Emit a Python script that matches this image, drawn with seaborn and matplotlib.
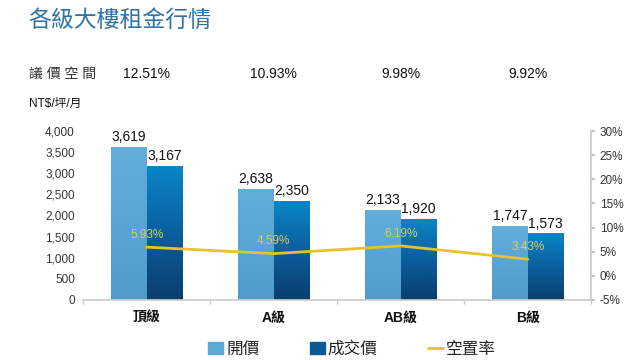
import numpy as np
import pandas as pd
import matplotlib
matplotlib.use("Agg")
import matplotlib.pyplot as plt
import seaborn as sns
from matplotlib.colors import LinearSegmentedColormap
from matplotlib.patches import Patch
from matplotlib.lines import Line2D
from matplotlib.ticker import FuncFormatter, MultipleLocator

categories = ["頂級", "A級", "AB級", "B級"]
asking = [3619, 2638, 2133, 1747]
deal = [3167, 2350, 1920, 1573]
vacancy = [5.93, 4.59, 6.19, 3.43]
gap = ["12.51%", "10.93%", "9.98%", "9.92%"]
series = ["開價", "成交價"]

sns.set_theme(style="white")
plt.rcParams["font.family"] = ["Liberation Sans", "Noto Sans CJK TC", "DejaVu Sans"]

df = pd.DataFrame({
    "級別": categories * 2,
    "類型": [series[0]] * 4 + [series[1]] * 4,
    "租金": asking + deal,
})

light = "#5aa8d6"
dark = "#0a6aab"
yellow = "#e9c12c"

fig = plt.figure(figsize=(6.4, 3.6), dpi=100)
ax = fig.add_axes([0.13, 0.167, 0.794, 0.469])

sns.barplot(data=df, x="級別", y="租金", hue="類型", order=categories,
            palette=[light, dark], width=0.56, gap=0, saturation=1,
            legend=False, ax=ax)

# gradient fill for bars
cm_open = LinearSegmentedColormap.from_list("o", ["#4f9bcb", "#62aedb"])
cm_deal = LinearSegmentedColormap.from_list("d", ["#0a3d6e", "#0a5f9e", "#0a86c9"])
grad = np.linspace(0, 1, 256).reshape(-1, 1)
for cont, cmap in zip(ax.containers, [cm_open, cm_deal]):
    for p in cont.patches:
        x0, y0 = p.get_x(), p.get_y()
        w, h = p.get_width(), p.get_height()
        im = ax.imshow(grad, extent=[x0, x0 + w, y0, y0 + h], origin="lower",
                       aspect="auto", cmap=cmap, zorder=p.get_zorder())
        im.set_clip_path(p)

for cont, vals in zip(ax.containers, [asking, deal]):
    ax.bar_label(cont, labels=[f"{v:,}" for v in vals], padding=2,
                 fontsize=10, color="#111111")

ax.set_xlim(-0.5, 3.5)
ax.set_ylim(0, 4000)
ax.yaxis.set_major_locator(MultipleLocator(500))
ax.yaxis.set_major_formatter(FuncFormatter(lambda v, _: f"{v:,.0f}"))
ax.set_xlabel("")
ax.set_ylabel("")
ax.tick_params(axis="y", labelsize=8.5, colors="#333333", length=0, pad=6)
ax.tick_params(axis="x", length=0, pad=8)
for lab in ax.get_xticklabels():
    lab.set_fontweight("bold")
    lab.set_fontsize(10)
    lab.set_color("#111111")
ax.set_xticks([-0.5, 0.5, 1.5, 2.5, 3.5], minor=True)
ax.tick_params(axis="x", which="minor", length=3, color="#cccccc", bottom=True)
for s in ["left", "top", "right"]:
    ax.spines[s].set_visible(False)
ax.spines["bottom"].set_color("#cccccc")

ax2 = ax.twinx()
sns.lineplot(x=categories, y=vacancy, sort=False, color=yellow, linewidth=2, ax=ax2)
ax2.set_ylim(-5, 30)
ax2.yaxis.set_major_locator(MultipleLocator(5))
ax2.yaxis.set_major_formatter(FuncFormatter(lambda v, _: f"{v:.0f}%"))
ax2.tick_params(axis="y", labelsize=8.5, colors="#333333", length=3, pad=3)
ax2.tick_params(axis="y", color="#bbbbbb")
for s in ["left", "top", "bottom"]:
    ax2.spines[s].set_visible(False)
ax2.spines["right"].set_color("#cccccc")
for i, v in enumerate(vacancy):
    ax2.text(i, v + 1.3, f"{v:.2f}%", ha="center", va="bottom",
             fontsize=8.5, color="#d8cf5e")
ax.set_xlim(-0.5, 3.5)

fig.text(0.045, 0.945, "各級大樓租金行情", fontsize=16.5, color="#2f72a6", va="center")
fig.text(0.045, 0.795, "議 價 空 間", fontsize=10, color="#333333", va="center")
for i, g in enumerate(gap):
    xf = 0.13 + 0.794 * (i + 0.5) / 4
    fig.text(xf, 0.795, g, fontsize=10, color="#111111", ha="center", va="center")
fig.text(0.045, 0.71, "NT$/坪/月", fontsize=8.5, color="#111111", va="center")

handles = [Patch(color=light), Patch(color="#0b5a96"),
           Line2D([0], [0], color=yellow, lw=2)]
fig.legend(handles, ["開價", "成交價", "空置率"], loc="center", ncol=3,
           bbox_to_anchor=(0.55, 0.03), frameon=False, fontsize=12,
           handlelength=0.9, handleheight=0.7, handletextpad=0.2, columnspacing=3)

fig.savefig("out.png", dpi=100)
